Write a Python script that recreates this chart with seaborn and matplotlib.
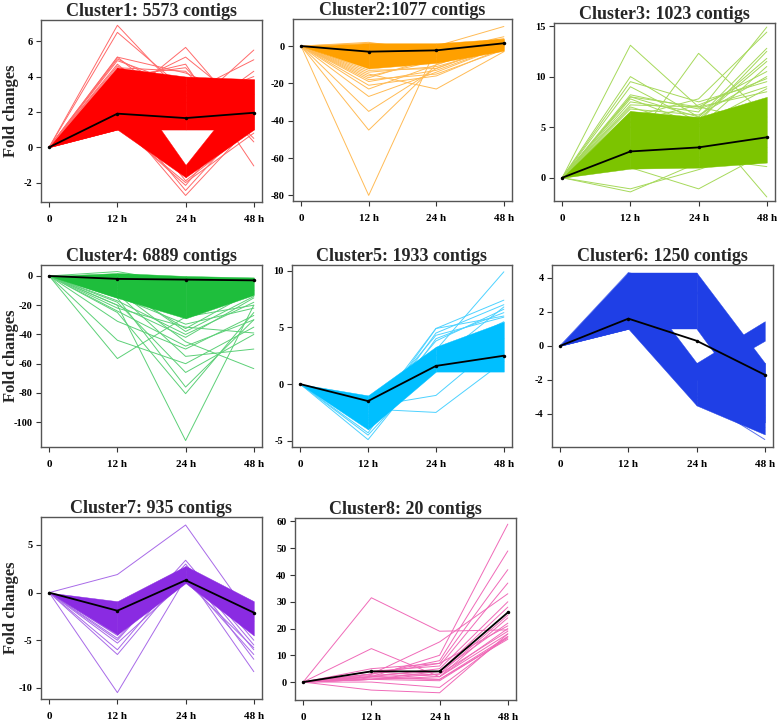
import numpy as np
import pandas as pd
import matplotlib
matplotlib.use("Agg")
import matplotlib.pyplot as plt
import seaborn as sns

times = ["0", "12 h", "24 h", "48 h"]

# ---- cluster 1 (red)
c1_mean = [0, 1.9, 1.65, 1.95]
c1_bands = [([0, 1.0, 1.0, 1.0], [0, 4.5, 4.0, 3.85]),
            ([0, 1.0, -1.7, 1.0], [0, 4.5, -1.0, 3.85])]
c1_lines = [[0, 6.9, 2.8, 3.0], [0, 6.5, 3.2, 2.2], [0, 5.1, 2.0, 5.5],
            [0, 5.0, 3.0, 4.95], [0, 4.7, 1.5, 4.3], [0, 2.5, 5.65, 1.2],
            [0, 3.2, 5.1, 2.0], [0, 3.8, 4.7, -1.06], [0, 1.8, -2.73, 1.4],
            [0, 2.2, -2.45, 1.8], [0, 1.3, -2.16, 2.5], [0, 3.0, -1.9, 1.1],
            [0, 4.5, 4.3, 0.5], [0, 4.9, 3.5, 3.0], [0, 4.6, 2.5, 4.0],
            [0, 1.2, -2.0, 0.8], [0, 5.1, 4.2, 2.6], [0, 4.0, 4.5, 0.3]]

# ---- cluster 2 (orange)
c2_mean = [0, -3, -2.3, 1.5]
c2_bands = [([0, -12, -9, -2.5], [0, 1.5, 1.5, 4])]
c2_lines = [[0, -80, -1, 3], [0, -45, -10, 2], [0, -35, -12, 1],
            [0, -27, -14, 0], [0, -23, -10, 2], [0, -21, -16, -1],
            [0, -15, -23, -3], [0, -5, 0, 10.5], [0, -18, -15, -2],
            [0, -19, -13, 0], [0, -16, -8, 3], [0, 1.5, -1, 4],
            [0, -14, -11, -1], [0, -17, -6, 2], [0, -13, -12, 1],
            [0, 2, -3, 5]]

# ---- cluster 3 (yellow green)
c3_mean = [0, 2.6, 3.0, 4.0]
c3_bands = [([0, 0.9, 1.0, 1.5], [0, 6.6, 6.0, 8.0])]
c3_lines = [[0, 13.1, 7.0, 5.5], [0, 10, 6, 11.8], [0, 9.5, 7.5, 9.5],
            [0, 9, 5.5, 12.5], [0, 3, 12.3, 6], [0, 7.5, 6.5, 14.9],
            [0, 6, 7.8, 14.4], [0, 8, 6, 12.8], [0, 5, 6, -1.9],
            [0, -1.4, 1.5, 4], [0, -1.1, 0.8, 3], [0, 1.0, -1.1, 2.5],
            [0, 2, 2, 1.1], [0, 8, 7, 10.5], [0, 7, 5, 11],
            [0, 8.2, 6.8, 9.0], [0, 7.2, 7.0, 8.5], [0, 6.8, 6.2, 10.0],
            [0, 5.5, 7.2, 9.8], [0, 7.8, 5.2, 8.8], [0, 6.5, 5.8, 11.5]]

# ---- cluster 4 (green)
c4_mean = [0, -2, -2.5, -3]
c4_bands = [([0, -15, -29, -13], [0, 2, 0, -1])]
c4_lines = [[0, -56.5, -28, -20], [0, -44, -60, -35], [0, -31, -50, -27],
            [0, -20, -112.6, -20], [0, -25, -80.5, -25], [0, -15, -76, -30],
            [0, -18, -66, -40], [0, -10, -45, -63.4], [0, -12, -55, -50],
            [0, -22, -35, -39], [0, 3, -5, -2], [0, -20, -42, -15],
            [0, -8, -36, -10], [0, -17, -40, -18], [0, -14, -33, -22],
            [0, -24, -48, -30], [0, -6, -38, -14]]

# ---- cluster 5 (sky blue)
c5_mean = [0, -1.5, 1.6, 2.5]
c5_bands = [([0, -4.0, 1.1, 1.1], [0, -1.0, 3.3, 5.5])]
c5_lines = [[0, -4.9, 2.5, 5.5], [0, -2.5, 3.0, 9.9], [0, -3, 4.9, 7.4],
            [0, -3.5, 4.9, 6.0], [0, -2, -1, 4], [0, -2.2, -2.5, 2],
            [0, -4.5, 2, 6.8], [0, -3.8, 4.5, 7.0], [0, -4.3, 4.0, 6.3],
            [0, -3.2, 3.8, 6.6], [0, -2.8, 4.3, 5.9]]

# ---- cluster 6 (blue)
c6_mean = [0, 1.6, 0.3, -1.7]
c6_bands = [([0, 1.0, 1.0, -4.5], [0, 4.3, 4.3, -1.0]),
            ([0, 1.0, -3.5, -5.2], [0, 4.3, -1.0, -1.0]),
            ([np.nan, np.nan, -2.0, 0.3], [np.nan, np.nan, -1.0, 1.45])]
c6_lines = [[0, 2.5, -3, -5.5], [0, 3.5, -2.8, -5.0], [0, 4.2, 4.2, -3.5],
            [0, 4.3, 3.2, -4.2], [0, 3.0, -3.2, -4.8]]

# ---- cluster 7 (purple)
c7_mean = [0, -1.9, 1.3, -2.1]
c7_bands = [([0, -4.4, 1.0, -4.5], [0, -0.9, 2.8, -0.9])]
c7_lines = [[0, 1.9, 7.1, -3.0], [0, -10.5, 1.5, -6.5], [0, -6.5, 2, -8.3],
            [0, -6, 2.5, -7], [0, -5.3, 1.2, -5.8], [0, -4.5, 3.4, -5],
            [0, -5.0, 3.0, -5.5], [0, -4.8, 2.6, -6.0]]

# ---- cluster 8 (pink), all 20 contigs
c8_mean = [0, 4, 4, 26]
c8_bands = []
c8_lines = [[0, 31.5, 19, 19.5], [0, 12.5, 2, 24], [0, 2, 10, 59],
            [0, 3, 8, 49], [0, 5, 7, 42], [0, 4, 6, 37], [0, 3, 15, 33],
            [0, 2, 5, 30], [0, 1, 4, 28], [0, 2, 3, 25], [0, 3, 7, 21],
            [0, 1, 2, 20], [0, -3, -4, 18], [0, 0, -2, 17], [0, 2, 1, 16],
            [0, 1, 3, 19], [0, 4, 2, 18], [0, 1.5, 1, 17], [0, 2.5, 4, 22],
            [0, 1, 0.5, 16.5]]

panels = [
    ("Cluster1: 5573 contigs", "#ff0000", "#ff6a6a", c1_mean, c1_bands, c1_lines,
     [-2, 0, 2, 4, 6], (-3.1, 7.2), (41, 20, 262, 202), True),
    ("Cluster2:1077 contigs", "#ffa000", "#ffbb55", c2_mean, c2_bands, c2_lines,
     [-80, -60, -40, -20, 0], (-83, 14.5), (293, 19, 512, 201), False),
    ("Cluster3: 1023 contigs", "#7cc400", "#a6d95a", c3_mean, c3_bands, c3_lines,
     [0, 5, 10, 15], (-2.3, 15.3), (554, 23, 775, 201), False),
    ("Cluster4: 6889 contigs", "#1ebe3c", "#5cd077", c4_mean, c4_bands, c4_lines,
     [-100, -80, -60, -40, -20, 0], (-117, 7.5), (41, 265, 262, 447), True),
    ("Cluster5: 1933 contigs", "#00bfff", "#4dd2ff", c5_mean, c5_bands, c5_lines,
     [-5, 0, 5, 10], (-5.55, 10.5), (292, 265, 512, 447), False),
    ("Cluster6: 1250 contigs", "#1f3fe6", "#5a72ee", c6_mean, c6_bands, c6_lines,
     [-4, -2, 0, 2, 4], (-5.94, 4.75), (552, 265, 773, 447), False),
    ("Cluster7: 935 contigs", "#8a2be2", "#a86ae8", c7_mean, c7_bands, c7_lines,
     [-10, -5, 0, 5], (-11.17, 7.94), (41, 517, 262, 699), True),
    ("Cluster8: 20 contigs", "#f0189a", "#f06ab8", c8_mean, c8_bands, c8_lines,
     [0, 10, 20, 30, 40, 50, 60], (-6.7, 61.3), (295, 518, 516, 700), False),
]

sns.set_theme(style="white")
plt.rcParams['font.family'] = ['Liberation Serif', 'DejaVu Serif']
plt.rcParams['font.weight'] = 'bold'
plt.rcParams['axes.unicode_minus'] = False

W, H = 778, 721
fig = plt.figure(figsize=(W / 100, H / 100), dpi=100)
x = np.arange(4)

for title, col, light, mean, bands, lines, yticks, ylim, (l, t, r, b), ylab in panels:
    ax = fig.add_axes([l / W, 1 - b / H, (r - l) / W, (b - t) / H])
    df = pd.DataFrame([{"contig": k, "t": j, "fc": v}
                       for k, row in enumerate(lines) for j, v in enumerate(row)])
    sns.lineplot(data=df, x="t", y="fc", units="contig", estimator=None,
                 color=light, lw=0.7, ax=ax, zorder=1)
    for low, high in bands:
        low = np.asarray(low, float)
        high = np.asarray(high, float)
        for i in range(3):
            if np.isnan(low[i]) or np.isnan(low[i + 1]):
                continue
            ax.fill_between(x[i:i + 2], low[i:i + 2], high[i:i + 2],
                            color=col, lw=0.3, zorder=2)
    sns.lineplot(x=x, y=mean, color="black", lw=1.3, marker="o", ms=2.5,
                 markeredgewidth=0, ax=ax, zorder=3)
    ax.set_xlim(-0.12, 3.12)
    ax.set_ylim(*ylim)
    ax.set_xticks(x)
    ax.set_xticklabels(times)
    ax.set_yticks(yticks)
    ax.tick_params(axis="both", length=3.5, width=0.8,
                   colors="#333333", labelcolor="black", bottom=True, left=True)
    ax.tick_params(axis="x", labelsize=8, pad=6)
    ax.tick_params(axis="y", labelsize=7.5, pad=2.5)
    for s in ax.spines.values():
        s.set_color("#555555")
        s.set_linewidth(1.0)
    ax.set_xlabel("")
    ax.set_ylabel("")
    ax.set_title(title, fontsize=13, fontweight="bold", pad=3)
    if ylab:
        fig.text(11 / W, 1 - (t + b) / 2 / H, "Fold changes", rotation=90,
                 fontsize=12, fontweight="bold", ha="center", va="center")

fig.savefig("out.png", dpi=100)
